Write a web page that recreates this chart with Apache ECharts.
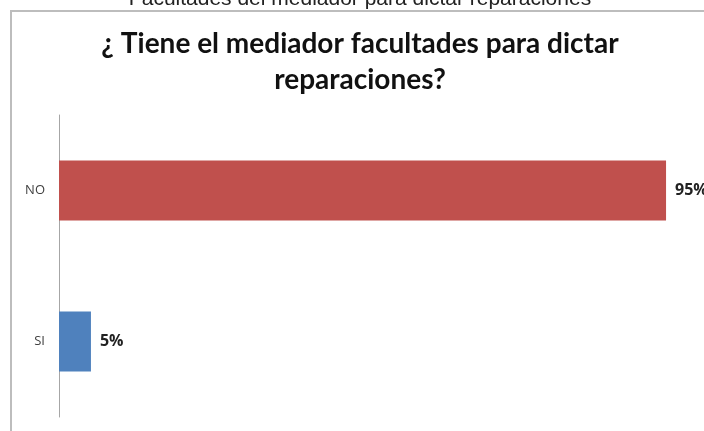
<!DOCTYPE html>
<html><head><meta charset="utf-8">
<script src="https://cdn.jsdelivr.net/npm/echarts@6/dist/echarts.min.js"></script>
<style>html,body{margin:0;padding:0;background:#fff}#c{width:704px;height:431px}</style>
</head><body><div id="c"></div>
<script>
const categories = ['SI', 'NO'];
const values = [5, 95];
const colors = ['#4f81bd', '#c0504d'];
const outerTitle = 'Facultades del mediador para dictar reparaciones';
const innerTitle = '¿ Tiene el mediador facultades para dictar\nreparaciones?';

const chart = echarts.init(document.getElementById('c'));
chart.setOption({
  animation: false,
  backgroundColor: '#fff',
  graphic: [
    {type: 'rect', shape: {x: 11, y: 11, width: 720, height: 440}, style: {fill: '#fff', stroke: '#bdbdbd', lineWidth: 2}, z: -10},
    {type: 'text', x: 360, y: 10, z: 5, style: {text: outerTitle, font: '21px "Liberation Sans", Arial, sans-serif', fill: '#222', textAlign: 'center', textVerticalAlign: 'bottom'}},
    {type: 'text', x: 360, y: 26, style: {text: innerTitle, font: 'bold 28px Lato, sans-serif', fill: '#111', textAlign: 'center', lineHeight: 36}}
  ],
  grid: {left: 59, right: 6, top: 115, bottom: 14},
  xAxis: {type: 'value', min: 0, max: 100, show: false},
  yAxis: {
    type: 'category', data: categories,
    axisLine: {lineStyle: {color: '#a6a6a6', width: 1}},
    axisTick: {show: false},
    axisLabel: {color: '#404040', fontSize: 13, fontFamily: '"Open Sans", sans-serif', margin: 14}
  },
  series: [{
    type: 'bar', barWidth: 60,
    data: values.map((v, i) => ({value: v, itemStyle: {color: colors[i]}})),
    label: {show: true, position: 'right', distance: 9, formatter: '{c}%', fontSize: 16, fontWeight: 'bold', color: '#222', fontFamily: '"Open Sans", sans-serif'}
  }]
});
</script></body></html>
